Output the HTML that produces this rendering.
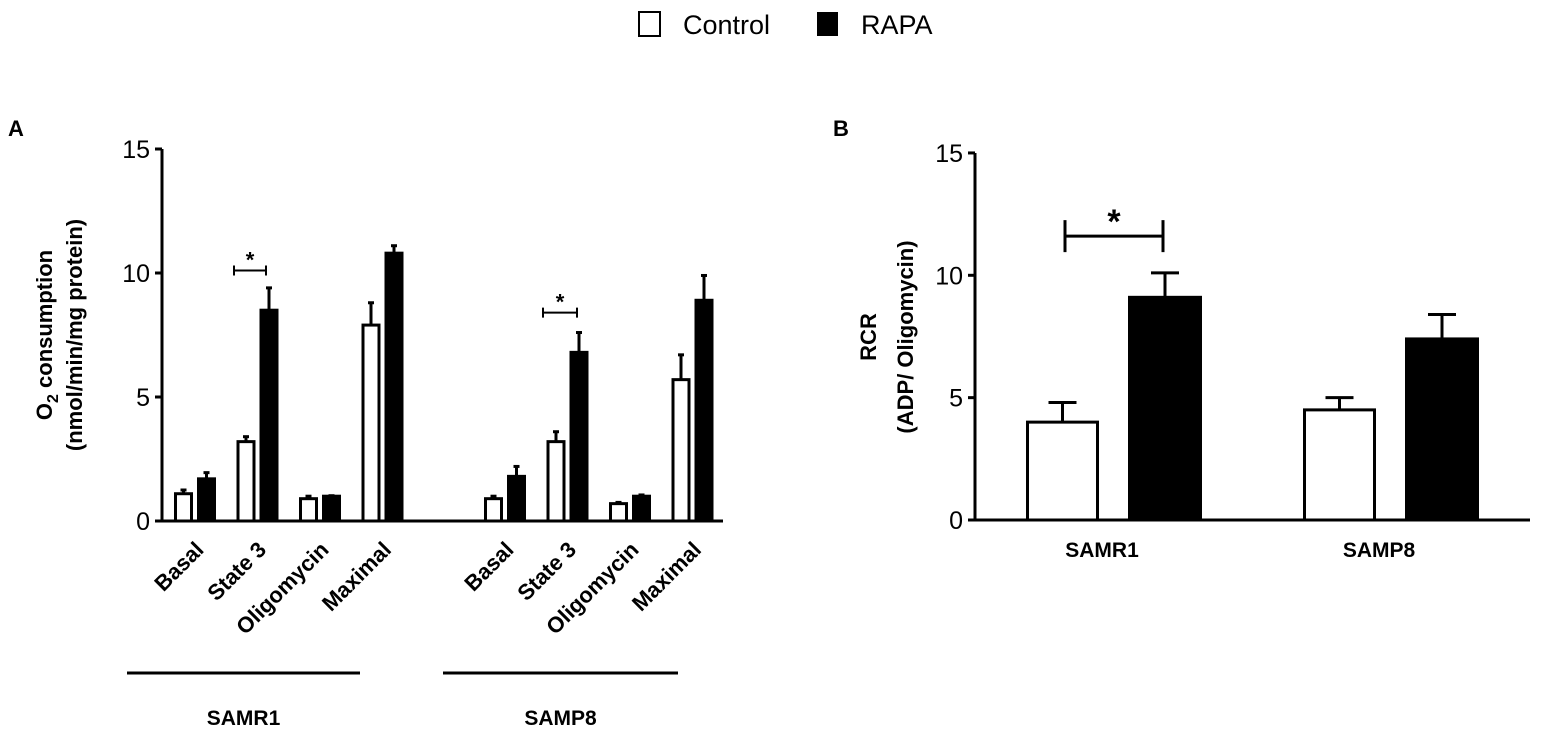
<!DOCTYPE html>
<html><head><meta charset="utf-8"><style>
body{margin:0;background:#fff}
svg{display:block;font-family:"Liberation Sans",Arial,sans-serif}
</style></head><body>
<svg id="c" width="1549" height="741" viewBox="0 0 1549 741">
<g>
<rect x="639" y="12" width="21" height="24" fill="#fff" stroke="#000" stroke-width="2"/>
<text x="683" y="34" font-size="27">Control</text>
<rect x="817" y="12" width="21" height="24" fill="#000"/>
<text x="861" y="34" font-size="27">RAPA</text>
</g>
<text x="8" y="136" font-size="22" font-weight="bold">A</text>
<text x="833" y="136" font-size="22" font-weight="bold">B</text>
<g id="A"></g>
<g id="B"></g>
</svg>
<script>
const aCats=["Basal","State 3","Oligomycin","Maximal"];
const aGroups=["SAMR1","SAMP8"];
const aCtrl=[1.1,3.2,0.9,7.9, 0.9,3.2,0.7,5.7];
const aCtrlErr=[0.15,0.2,0.1,0.9, 0.1,0.4,0.05,1.0];
const aRapa=[1.7,8.5,1.0,10.8, 1.8,6.8,1.0,8.9];
const aRapaErr=[0.25,0.9,0.02,0.3, 0.4,0.8,0.05,1.0];
const bCats=["SAMR1","SAMP8"];
const bCtrl=[4.0,4.5];
const bCtrlErr=[0.8,0.5];
const bRapa=[9.1,7.4];
const bRapaErr=[1.0,1.0];
const ticks=[0,5,10,15];
const NS="http://www.w3.org/2000/svg";
function mk(p,t,a,txt){const e=document.createElementNS(NS,t);for(const k in a)e.setAttribute(k,a[k]);if(txt!=null)e.textContent=txt;p.appendChild(e);return e;}

// Panel A
const A=document.getElementById('A');
const ay=v=>521-v*24.8;
const ax0=162;
let e;
e=mk(A,'line',{x1:ax0,y1:ay(15),x2:ax0,y2:ay(0)+1,stroke:'#000','stroke-width':3});

e=mk(A,'line',{x1:ax0,y1:ay(0),x2:723,y2:ay(0),stroke:'#000','stroke-width':3});

ticks.forEach(t=>{
 e=mk(A,'line',{x1:ax0-7,y1:ay(t),x2:ax0,y2:ay(t),stroke:'#000','stroke-width':3});
 
 e=mk(A,'text',{x:ax0-12,y:ay(t)+9,'font-size':25,'text-anchor':'end'},t);
 
});
function bar(p,x,w,v,err,fill,yf,nm,cap){
 const y=yf(v),y0=yf(0);
 e=mk(p,'line',{x1:x+w/2,y1:y,x2:x+w/2,y2:yf(v+err),stroke:'#000','stroke-width':3});
 
 e=mk(p,'line',{x1:x+w/2-cap,y1:yf(v+err),x2:x+w/2+cap,y2:yf(v+err),stroke:'#000','stroke-width':3});
 
 e=mk(p,'rect',{x:x+1.5,y:y,width:w-3,height:y0-y,fill:fill,stroke:'#000','stroke-width':3});
 
}
const bwA=19;
aCtrl.forEach((v,i)=>{
 const g=Math.floor(i/4),k=i%4;
 const x=174+g*310+k*62.5;
 bar(A,x,bwA,v,aCtrlErr[i],'#fff',ay,'bar-control-'+aGroups[g].toLowerCase()+'-'+k,3);
 bar(A,x+23,bwA,aRapa[i],aRapaErr[i],'#000',ay,'bar-rapa-'+aGroups[g].toLowerCase()+'-'+k,3);
 e=mk(A,'text',{'font-size':22,'font-weight':'bold','text-anchor':'end',transform:`translate(${x+31},${551}) rotate(-45)`},aCats[k]);
 
});
aGroups.forEach((g,j)=>{
 const x1=127+j*316,x2=360+j*318;
 e=mk(A,'line',{x1:x1,y1:673,x2:x2,y2:673,stroke:'#000','stroke-width':3});
 
 e=mk(A,'text',{x:(x1+x2)/2,y:725,'font-size':21,'font-weight':'bold','text-anchor':'middle'},g);
 
});
function sig(p,x1,x2,y,h,fs,sw){
 e=mk(p,'path',{d:`M${x1},${y-h}V${y+h}M${x1},${y}H${x2}M${x2},${y-h}V${y+h}`,stroke:'#000',fill:'none','stroke-width':sw});
 
 e=mk(p,'text',{x:(x1+x2)/2,y:y-3+fs*0.3,'font-size':fs,'font-weight':'bold','text-anchor':'middle',dy:-fs*0.3},'*');
 
}
sig(A,234,266,ay(10.1),5,22,2);
sig(A,543,577,ay(8.4),5,22,2);
e=mk(A,'text',{'font-size':22,'font-weight':'bold','text-anchor':'middle',transform:'translate(52,335) rotate(-90)'});
e.innerHTML='O<tspan font-size="16" dy="6">2</tspan><tspan dy="-6"> consumption</tspan>';

e=mk(A,'text',{'font-size':22,'font-weight':'bold','text-anchor':'middle',transform:'translate(82,335) rotate(-90)'},'(nmol/min/mg protein)');


// Panel B
const B=document.getElementById('B');
const by=v=>520-v*24.47;
const bx0=975;
e=mk(B,'line',{x1:bx0,y1:by(15),x2:bx0,y2:by(0)+1,stroke:'#000','stroke-width':3});

e=mk(B,'line',{x1:bx0,y1:by(0),x2:1530,y2:by(0),stroke:'#000','stroke-width':3});

ticks.forEach(t=>{
 e=mk(B,'line',{x1:bx0-7,y1:by(t),x2:bx0,y2:by(t),stroke:'#000','stroke-width':3});
 
 e=mk(B,'text',{x:bx0-12,y:by(t)+9,'font-size':25,'text-anchor':'end'},t);
 
});
bCats.forEach((c,i)=>{
 const x=1026+i*277;
 bar(B,x,73,bCtrl[i],bCtrlErr[i],'#fff',by,'bar-control-'+c.toLowerCase(),14);
 bar(B,x+102,74,bRapa[i],bRapaErr[i],'#000',by,'bar-rapa-'+c.toLowerCase(),14);
 e=mk(B,'text',{x:x+76,y:557,'font-size':21,'font-weight':'bold','text-anchor':'middle'},c);
 
});
sig(B,1065,1163,by(11.6),16,34,3);
e=mk(B,'text',{'font-size':22,'font-weight':'bold','text-anchor':'middle',transform:'translate(876,337) rotate(-90)'},'RCR');

e=mk(B,'text',{'font-size':22,'font-weight':'bold','text-anchor':'middle',transform:'translate(913,337) rotate(-90)'},'(ADP/ Oligomycin)');

</script>
</body></html>
